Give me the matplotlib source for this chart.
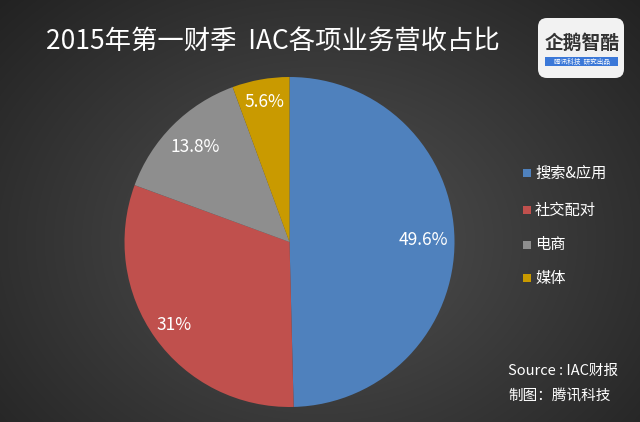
import numpy as np
import matplotlib
matplotlib.use("Agg")
import matplotlib.pyplot as plt
from matplotlib.patches import FancyBboxPatch, Rectangle

plt.rcParams['font.family'] = ['Noto Sans CJK SC', 'DejaVu Sans']

categories = ['搜索&应用', '社交配对', '电商', '媒体']
values = [49.6, 31, 13.8, 5.6]
labels = ['49.6%', '31%', '13.8%', '5.6%']
colors = ['#4f81bd', '#c0504d', '#8e8e8e', '#c99a00']

W, H = 640, 422
fig = plt.figure(figsize=(W/100, H/100), dpi=100)

# background radial gradient
bg = fig.add_axes([0, 0, 1, 1])
yy, xx = np.mgrid[0:H, 0:W]
d = np.sqrt(((xx - 320) / 380.0) ** 2 + ((yy - 240) / 300.0) ** 2)
g = np.clip(0.32 - 0.16 * d, 0.13, 0.32)
bg.imshow(np.dstack([g, g, g]), extent=[0, W, H, 0], aspect='auto')
bg.set_xlim(0, W); bg.set_ylim(H, 0)
bg.axis('off')

# pie
cx, cy, r = 289.5, 242, 165
ax = fig.add_axes([(cx - r) / W, (H - cy - r) / H, 2 * r / W, 2 * r / H])
wedges, _ = ax.pie(values, colors=colors, startangle=90, counterclock=False,
                   wedgeprops=dict(linewidth=0))
ax.set_aspect('auto')
ax.set_xlim(-1, 1); ax.set_ylim(-1, 1)
dists = [0.81, 0.86, 0.81, 0.86]
for w, lab, dd in zip(wedges, labels, dists):
    ang = np.deg2rad((w.theta1 + w.theta2) / 2)
    ax.text(dd * np.cos(ang), dd * np.sin(ang), lab, ha='center', va='center',
            color='white', fontsize=12.5)

# title
bg.text(46, 42, '2015年第一财季  IAC各项业务营收占比', color='white', fontsize=19,
        ha='left', va='center')

# legend
ly = [173, 210, 245, 278]
for c, lab, y in zip(colors, categories, ly):
    bg.add_patch(Rectangle((523, y - 4), 8, 8, color=c, lw=0))
    bg.text(535, y, lab, color='white', fontsize=11, ha='left', va='center')

# source
bg.text(508, 371, 'Source : IAC财报', color='white', fontsize=10.5, style='italic',
        ha='left', va='center')
bg.text(508, 396, '制图：腾讯科技', color='white', fontsize=10.5, style='italic',
        ha='left', va='center')

# logo
bg.add_patch(FancyBboxPatch((538, 18), 86, 60, boxstyle='round,pad=0,rounding_size=9',
                            fc='#f2f2f2', ec='none'))
bg.text(582, 43, '企鹅智酷', color='#333333', fontsize=13.5, ha='center', va='center',
        weight='bold')
bg.add_patch(Rectangle((545, 57), 73, 9, color='#3b78d8', lw=0))
bg.text(581.5, 61.5, '腾讯科技  研究出品', color='white', fontsize=4.8, ha='center',
        va='center')

fig.savefig('out.png', dpi=100)
